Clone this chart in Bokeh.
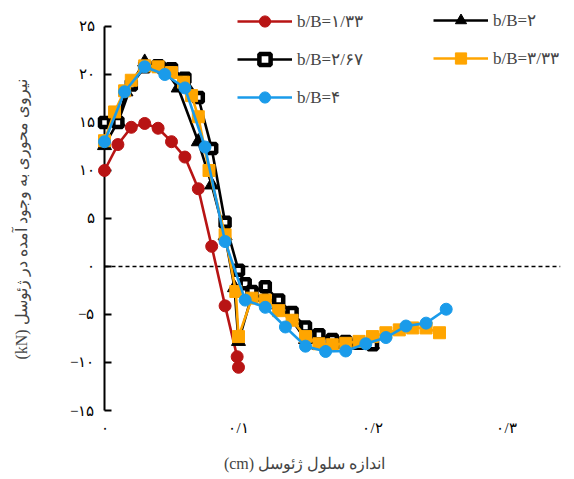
from bokeh.plotting import figure
from bokeh.models import (Span, Legend, LegendItem, FixedTicker, Range1d)
from bokeh.embed import file_html
from bokeh.resources import INLINE

# Axial force in the geocell (kN) against geocell cell size (cm), per b/B ratio
r133_x = [0, 0.01, 0.02, 0.03, 0.04, 0.05, 0.06, 0.07, 0.08, 0.09, 0.099, 0.1]
r133_y = [10.0, 12.7, 14.5, 14.9, 14.4, 13.0, 11.4, 8.1, 2.1, -4.1, -9.4, -10.5]

r2_x = [0, 0.01, 0.016, 0.03, 0.045, 0.055, 0.07, 0.08, 0.09, 0.097, 0.1,
        0.11, 0.12, 0.13, 0.14, 0.15, 0.16, 0.17, 0.18, 0.19, 0.2]
r2_y = [12.6, 15.1, 18.2, 21.3, 20.5, 18.6, 13.0, 8.5, 3.2, -2.2, -7.8,
        -3.0, -3.2, -4.0, -5.6, -7.6, -8.2, -8.1, -8.1, -8.2, -8.1]

r267_x = [0, 0.01, 0.02, 0.03, 0.04, 0.05, 0.06, 0.07, 0.08, 0.09, 0.1, 0.105,
          0.11, 0.12, 0.13, 0.14, 0.15, 0.16, 0.17, 0.18, 0.19, 0.2]
r267_y = [15.0, 15.0, 18.9, 20.8, 20.9, 20.6, 19.6, 17.6, 12.3, 4.6, -0.4, -1.8,
          -2.6, -2.1, -3.5, -4.8, -6.3, -7.1, -7.6, -7.8, -8.0, -8.15]

r333_x = [0, 0.0075, 0.015, 0.02, 0.03, 0.04, 0.05, 0.059, 0.065, 0.07, 0.078,
          0.09, 0.098, 0.1, 0.11, 0.12, 0.13, 0.14, 0.15, 0.16, 0.17, 0.18,
          0.19, 0.2, 0.21, 0.22, 0.23, 0.24, 0.25]
r333_y = [13.1, 16.1, 18.3, 19.4, 20.9, 20.8, 20.2, 19.2, 17.8, 15.6, 10.0,
          3.3, -2.6, -7.3, -3.3, -3.5, -4.6, -5.6, -7.3, -8.05, -8.15, -8.0,
          -7.8, -7.3, -6.9, -6.6, -6.4, -6.4, -6.9]

r4_x = [0, 0.015, 0.03, 0.045, 0.06, 0.075, 0.09, 0.105, 0.12, 0.135, 0.15,
        0.165, 0.18, 0.195, 0.21, 0.225, 0.24, 0.255]
r4_y = [13.0, 18.2, 20.8, 20.0, 18.6, 12.45, 2.6, -3.5, -4.25, -6.3, -8.3,
        -8.85, -8.8, -8.05, -7.4, -6.2, -5.9, -4.45]

y_ticks = [-15, -10, -5, 0, 5, 10, 15, 20, 25]
y_tick_labels = ["−۱۵", "−۱۰", "−۵", "۰", "۵", "۱۰", "۱۵", "۲۰", "۲۵"]
x_ticks = [0, 0.1, 0.2, 0.3]
x_tick_labels = ["۰", "۰/۱", "۰/۲", "۰/۳"]

series_labels = ["b/B=۱/۳۳", "b/B=۲", "b/B=۲/۶۷", "b/B=۳/۳۳", "b/B=۴"]

RED = "#B81414"
BLACK = "#000000"
ORANGE = "#FFA500"
BLUE = "#1A9BEA"
FONT = "Liberation Serif"
NBSP = "\u00a0"

# the frame runs up to the top edge so the legend rows above 25 stay visible;
# the axis line itself stops at the -15..25 span
p = figure(width=574, height=479, output_backend="svg", toolbar_location=None,
           x_range=Range1d(0, 0.3403), y_range=Range1d(-15, 27.708),
           min_border_left=104, min_border_right=14, min_border_top=0,
           min_border_bottom=69)
p.outline_line_color = None
p.grid.visible = False
p.background_fill_color = "white"

# zero reference line
p.add_layout(Span(location=0, dimension="width", line_color="black",
                  line_dash="4 3", line_width=1.3))

lw = 2.6
l1 = p.line(r133_x, r133_y, line_color=RED, line_width=lw)
m1 = p.scatter(r133_x, r133_y, marker="circle", size=12, fill_color=RED,
               line_color=RED)

l2 = p.line(r2_x, r2_y, line_color=BLACK, line_width=lw)
m2 = p.scatter(r2_x, r2_y, marker="triangle", size=14, fill_color=BLACK,
               line_color=BLACK)

l3 = p.line(r267_x, r267_y, line_color=BLACK, line_width=lw)
m3 = p.scatter(r267_x, r267_y, marker="square", size=9, fill_color="white",
               line_color=BLACK, line_width=4.5)

l4 = p.line(r333_x, r333_y, line_color=ORANGE, line_width=lw)
m4 = p.scatter(r333_x, r333_y, marker="square", size=12, fill_color=ORANGE,
               line_color=ORANGE)

l5 = p.line(r4_x, r4_y, line_color=BLUE, line_width=lw)
m5 = p.scatter(r4_x, r4_y, marker="circle", size=12, fill_color=BLUE,
               line_color=BLUE)

# draw series above the frame clip so markers at x = 0 sit whole on the axis
for r in (l1, m1, l2, m2, l3, m3, l4, m4, l5, m5):
    r.level = "overlay"

ya = p.yaxis[0]
ya.bounds = (-15, 25)
ya.ticker = FixedTicker(ticks=y_ticks)
ya.major_label_overrides = {t: s for t, s in zip(y_ticks, y_tick_labels)}
ya.major_tick_in = 7
ya.major_tick_out = 0
ya.minor_tick_line_color = None
ya.axis_line_width = 2
ya.major_tick_line_width = 2
ya.axis_line_color = "black"
ya.major_label_text_font = FONT
ya.major_label_text_font_size = "15px"
ya.major_label_text_color = "black"
ya.major_label_standoff = 10
# trailing no-break spaces push the rotated title down to the -15..25 span
ya.axis_label = "(kN) نیروی محوری به وجود آمده در ژئوسل" + NBSP * 7
ya.axis_label_text_font = FONT
ya.axis_label_text_font_style = "normal"
ya.axis_label_text_font_size = "16px"
ya.axis_label_standoff = 37

xa = p.xaxis[0]
xa.ticker = FixedTicker(ticks=x_ticks)
xa.major_label_overrides = {t: s for t, s in zip(x_ticks, x_tick_labels)}
xa.axis_line_color = None
xa.major_tick_line_color = None
xa.minor_tick_line_color = None
xa.major_label_text_font = FONT
xa.major_label_text_font_size = "15px"
xa.major_label_text_color = "black"
xa.major_label_standoff = 3
xa.axis_label = "(cm) اندازه سلول ژئوسل" + NBSP * 14
xa.axis_label_text_font = FONT
xa.axis_label_text_font_style = "normal"
xa.axis_label_text_font_size = "16px"
xa.axis_label_standoff = 16


def make_legend(items, loc):
    return Legend(items=items, location=loc, orientation="vertical",
                  border_line_color=None, background_fill_alpha=0,
                  padding=0, margin=0, spacing=10, glyph_width=55,
                  glyph_height=28, label_standoff=5,
                  label_text_font=FONT, label_text_font_size="17px",
                  label_height=28)


leg_a = make_legend([LegendItem(label=series_labels[0], renderers=[l1, m1]),
                     LegendItem(label=series_labels[2], renderers=[l3, m3]),
                     LegendItem(label=series_labels[4], renderers=[l5, m5])],
                    (133, 299))
leg_b = make_legend([LegendItem(label=series_labels[1], renderers=[l2, m2]),
                     LegendItem(label=series_labels[3], renderers=[l4, m4])],
                    (329, 338))
p.add_layout(leg_a)
p.add_layout(leg_b)

open("out.html", "w").write(file_html(p, INLINE))
